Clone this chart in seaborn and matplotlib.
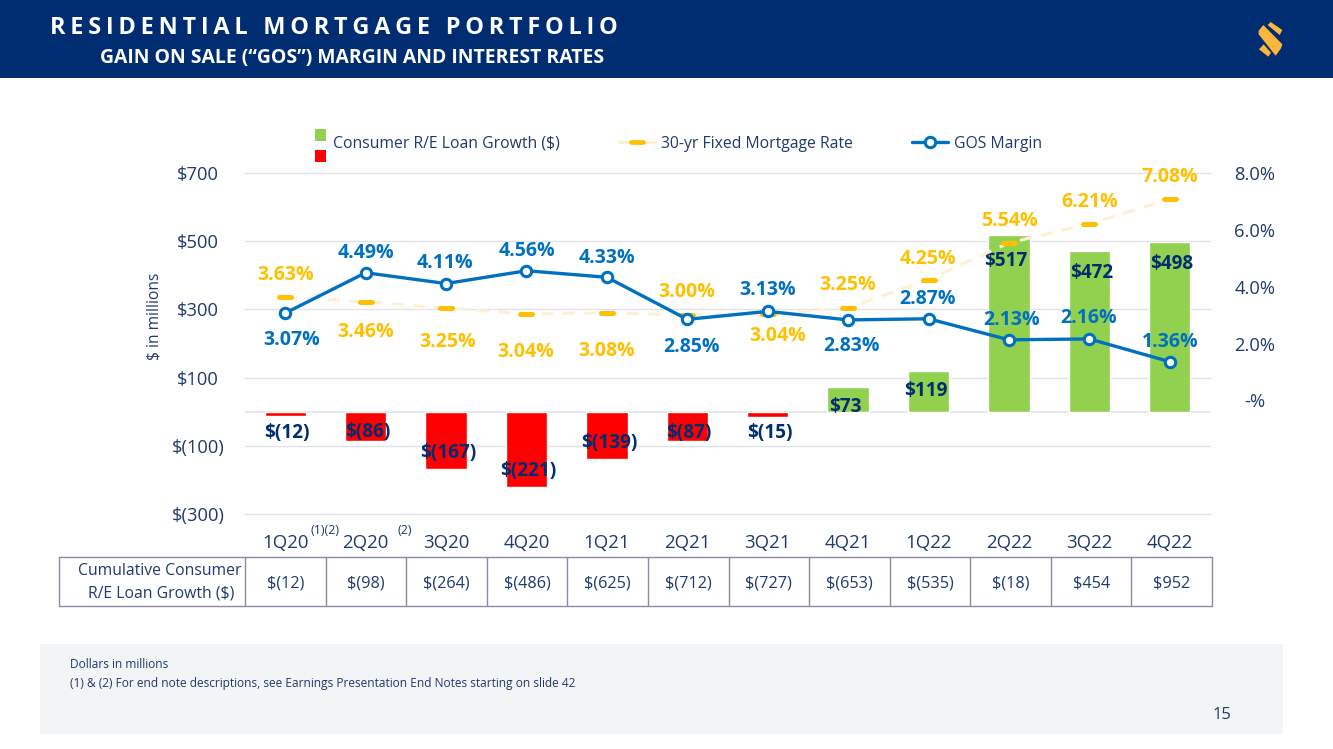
import numpy as np
import pandas as pd
import matplotlib
matplotlib.use("Agg")
import matplotlib.pyplot as plt
from matplotlib.lines import Line2D
from matplotlib.markers import MarkerStyle
from matplotlib.patches import Patch, Rectangle, Polygon
from matplotlib.legend_handler import HandlerBase
import seaborn as sns

# ---- data ----
quarters = ["1Q20", "2Q20", "3Q20", "4Q20", "1Q21", "2Q21", "3Q21", "4Q21", "1Q22", "2Q22", "3Q22", "4Q22"]
loan_growth = [-12, -86, -167, -221, -139, -87, -15, 73, 119, 517, 472, 498]
mortgage_rate = [3.63, 3.46, 3.25, 3.04, 3.08, 3.00, 3.04, 3.25, 4.25, 5.54, 6.21, 7.08]
gos_margin = [3.07, 4.49, 4.11, 4.56, 4.33, 2.85, 3.13, 2.83, 2.87, 2.13, 2.16, 1.36]
cumulative = ["$(12)", "$(98)", "$(264)", "$(486)", "$(625)", "$(712)", "$(727)", "$(653)", "$(535)", "$(18)", "$454", "$952"]
left_ticks = [-300, -100, 100, 300, 500, 700]
left_tick_labels = ["$(300)", "$(100)", "$100", "$300", "$500", "$700"]
right_ticks = [0, 2, 4, 6, 8]
right_tick_labels = ["-%", "2.0%", "4.0%", "6.0%", "8.0%"]

# ---- label offsets in pixels (dx, dy with +dy upwards) ----
rate_off = [(0, 22), (0, -30), (2, -34), (-1, -38), (0, -38), (-1, 23), (10, -22), (-1, 23), (-1, 21), (0, 22), (0, 22), (0, 22)]
gos_off = [(6, -27), (0, 20), (-1, 21), (0, 20), (0, 19), (4, -28), (0, 21), (3, -26), (-1, 20), (3, 20), (-1, 21), (0, 20)]
bar_label_px = [(2, 433), (2, 432), (2, 453), (2, 471), (2, 443), (2, 433), (2, 433), (-3, 407), (-3, 391), (-3, 261), (2, 273), (2, 264)]

NAVY = "#002D72"
TEXT = "#1F3A6E"
BLUE = "#0070C0"
GOLD = "#FFC000"
FAINT = "#FDF0D5"
W, H = 1333, 749
PT = 72 / 100

sns.set_theme(style="white")
plt.rcParams["font.family"] = ["Open Sans", "Noto Sans", "DejaVu Sans"]

fig = plt.figure(figsize=(W / 100, H / 100), dpi=100)

# page furniture in pixel coordinates
page = fig.add_axes([0, 0, 1, 1], zorder=0)
page.set_xlim(0, W)
page.set_ylim(H, 0)
page.axis("off")
page.add_patch(Rectangle((0, 0), W, 78, color=NAVY, lw=0))
page.add_patch(Rectangle((40, 644), 1243, 90, color="#F3F4F5", lw=0))

letter_gap = "\u2009"
word_gap = "\u2009 \u2009"
title = word_gap.join(letter_gap.join(word) for word in ["RESIDENTIAL", "MORTGAGE", "PORTFOLIO"])
page.text(50, 28, title, color="white", fontsize=16.9, fontweight="bold", va="center", ha="left")
page.text(100, 58.5, "GAIN ON SALE (“GOS”) MARGIN AND INTEREST RATES", color="white",
          fontsize=13.95, fontweight="bold", va="center", ha="left")

logo = [[(68, 30), (77, 21), (112, 45), (104, 60)],
        [(41, 47), (55, 30), (112, 88), (108, 100), (92, 122), (41, 58)],
        [(42, 103), (56, 88), (78, 113), (70, 125)]]
for pts in logo:
    page.add_patch(Polygon([(1245 + x / 3, 15 + y / 3) for x, y in pts], color="#FDB83C", lw=0))

page.text(70, 664, "Dollars in millions", color=TEXT, fontsize=8.55, va="center")
page.text(70, 683, "(1) & (2) For end note descriptions, see Earnings Presentation End Notes starting on slide 42",
          color=TEXT, fontsize=8.55, va="center")
page.text(1222, 715, "15", color=TEXT, fontsize=12, va="center", ha="center")
page.text(155, 316, "$ in millions", color=TEXT, fontsize=11.2, rotation=90, va="center", ha="center")
page.text(325, 531, "(1)(2)", color=TEXT, fontsize=9, va="center", ha="center")
page.text(405, 531, "(2)", color=TEXT, fontsize=9, va="center", ha="center")

# cumulative table under the chart
edges = np.linspace(245, 1212, len(quarters) + 1)
tbl_top, tbl_bot = 557, 606
border = dict(color="#8C8CA3", lw=1.0)
page.plot([59, 1212], [tbl_top, tbl_top], **border)
page.plot([59, 1212], [tbl_bot, tbl_bot], **border)
page.plot([59, 59], [tbl_top, tbl_bot], **border)
for e in edges:
    page.plot([e, e], [tbl_top, tbl_bot], **border)
for i, v in enumerate(cumulative):
    page.text((edges[i] + edges[i + 1]) / 2, 587.5, v, color=TEXT, fontsize=11.7, ha="center", va="baseline")
page.text(242, 571, "Cumulative Consumer", color=TEXT, fontsize=11.3, ha="right", va="center")
page.text(234, 593, "R/E Loan Growth ($)", color=TEXT, fontsize=11.3, ha="right", va="center")

# main chart
ax = fig.add_axes([245 / W, 1 - 514 / H, 965 / W, 341 / H], zorder=1)
ax.patch.set_alpha(0)
df = pd.DataFrame({"quarter": quarters, "growth": loan_growth})
df["sign"] = np.where(df["growth"] >= 0, "up", "down")
sns.barplot(data=df, x="quarter", y="growth", hue="sign", dodge=False, legend=False, saturation=1,
            palette={"up": "#92D050", "down": "#FF0000"}, width=0.515, ax=ax, zorder=2)
ax.set_xlim(-0.5, len(quarters) - 0.5)
ax.set_ylim(-300, 700)
ax.set_yticks(left_ticks, left_tick_labels)
ax.set_xlabel("")
ax.set_ylabel("")
ax.tick_params(axis="y", length=0, pad=33.8, labelsize=13.2, labelcolor=TEXT)
for lbl in ax.get_yticklabels():
    lbl.set_horizontalalignment("center")
ax.tick_params(axis="x", length=0, pad=14.5, labelsize=13.4, labelcolor=TEXT)
for y in left_ticks:
    ax.axhline(y, color="#E2E3E8", lw=1, zorder=1, clip_on=False)
ax.axhline(0, color="#DDE4F0", lw=1.2, zorder=1)
sns.despine(ax=ax, left=True, bottom=True)

# bar value labels
for i, v in enumerate(loan_growth):
    txt = f"${v}" if v >= 0 else f"$({-v})"
    dx, py = bar_label_px[i]
    page_x, page_y = ax.transData.transform((i, 0))
    ax.annotate(txt, xy=(i, v), xytext=(page_x + dx, H - py), textcoords="figure pixels",
                color=NAVY, fontsize=13.6, fontweight="bold", ha="center", va="center", zorder=5)

# rate axis
ax2 = ax.twinx()
ax2.patch.set_alpha(0)
ax2.set_zorder(2)
xs = list(range(len(quarters)))
dash_marker = MarkerStyle("_", capstyle="round")
sns.lineplot(x=xs, y=mortgage_rate, ax=ax2, color=FAINT, lw=2.2, dashes=False, linestyle=(0, (4, 3)),
             marker=dash_marker, markersize=9, markeredgewidth=3.6, markeredgecolor=GOLD, zorder=3,
             errorbar=None)
sns.lineplot(x=xs, y=gos_margin, ax=ax2, color=BLUE, lw=2.4, marker="o", markersize=7.5,
             markerfacecolor="white", markeredgecolor=BLUE, markeredgewidth=2.2, zorder=4, errorbar=None)
ax2.set_ylim(-4, 8)
ax2.set_yticks(right_ticks, right_tick_labels)
ax2.tick_params(axis="y", length=0, pad=32.2, labelsize=13.2, labelcolor=TEXT)
for lbl in ax2.get_yticklabels():
    lbl.set_horizontalalignment("center")
ax2.set_ylabel("")
sns.despine(ax=ax2, left=True, bottom=True, right=True)

for i, (v, off) in enumerate(zip(mortgage_rate, rate_off)):
    ax2.annotate(f"{v:.2f}%", xy=(i, v), xytext=(off[0] * PT, off[1] * PT), textcoords="offset points",
                 color=GOLD, fontsize=14, fontweight="bold", ha="center", va="center", zorder=6)
for i, (v, off) in enumerate(zip(gos_margin, gos_off)):
    ax2.annotate(f"{v:.2f}%", xy=(i, v), xytext=(off[0] * PT, off[1] * PT), textcoords="offset points",
                 color=BLUE, fontsize=14, fontweight="bold", ha="center", va="center", zorder=6)


# legend, with the stacked green/red key
class StackedKey(HandlerBase):
    def create_artists(self, legend, orig, xd, yd, width, height, fontsize, trans):
        s = 8.6
        x = width - s
        mid = height / 2
        top = Rectangle((x, mid + 1.0), s, s, facecolor="#92D050", lw=0, transform=trans)
        bot = Rectangle((x, mid - s - 5.5), s, s, facecolor="#FF0000", lw=0, transform=trans)
        return [top, bot]


handles = [
    Patch(label="Consumer R/E Loan Growth ($)"),
    Line2D([], [], color=FAINT, lw=2.2, marker=MarkerStyle("_", capstyle="round"), markersize=9,
           markeredgewidth=3.4, markeredgecolor=GOLD, label="30-yr Fixed Mortgage Rate"),
    Line2D([], [], color=BLUE, lw=2.4, marker="o", markersize=7.5, markerfacecolor="white",
           markeredgecolor=BLUE, markeredgewidth=2.2, label="GOS Margin"),
]
leg = fig.legend(handles=handles, handler_map={handles[0]: StackedKey()}, ncols=3, frameon=False,
                 loc="center left", bbox_to_anchor=(291 / W, 1 - 143.5 / H), borderpad=0, borderaxespad=0,
                 fontsize=11.35, handlelength=2.25, handletextpad=0.41, columnspacing=3.76, numpoints=1,
                 labelcolor=TEXT)

fig.savefig("out.png", dpi=100)
